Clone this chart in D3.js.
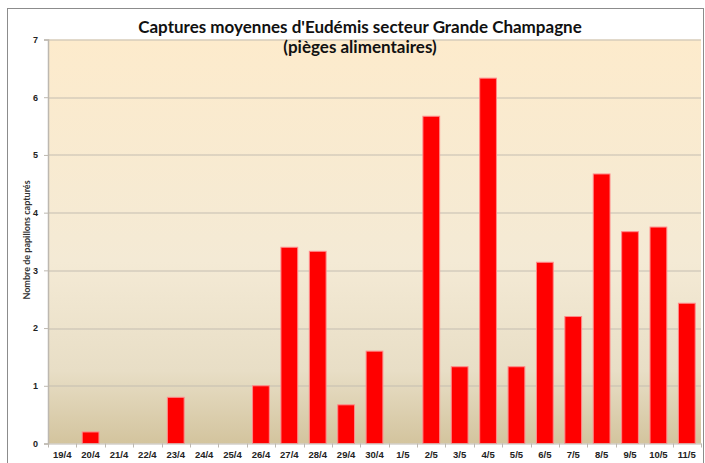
<!DOCTYPE html>
<html lang="fr">
<head>
<meta charset="UTF-8">
<title>Captures moyennes d'Eudémis</title>
<script src="https://d3js.org/d3.v7.min.js"></script>
<style>
  body { margin: 0; background: #fff; }
  svg { display: block; font-family: Lato, "Open Sans", sans-serif; }
  .grid line { stroke: #c4bdb1; stroke-width: 1px; }
  .axis path, .axis line { stroke: #bdb8b0; }
  .axis text { font-size: 9.5px; font-weight: bold; fill: #222; }
</style>
</head>
<body>
<svg id="chart" width="705" height="463"></svg>
<script>
// dates of the trap readings
const dates = ["19/4", "20/4", "21/4", "22/4", "23/4", "24/4", "25/4", "26/4", "27/4", "28/4", "29/4", "30/4",
               "1/5", "2/5", "3/5", "4/5", "5/5", "6/5", "7/5", "8/5", "9/5", "10/5", "11/5"];
// mean number of moths caught
const captures = [0, 0.2, 0, 0, 0.8, 0, 0, 1, 3.4, 3.33, 0.67, 1.6,
                  0, 5.67, 1.33, 6.33, 1.33, 3.14, 2.2, 4.67, 3.67, 3.75, 2.43];
const yTicks = [0, 1, 2, 3, 4, 5, 6, 7];

const svg = d3.select("#chart");
const margin = { top: 39.5, right: 4, bottom: 19.5, left: 48 };
const width = 705 - margin.left - margin.right;
const height = 463 - margin.top - margin.bottom;

// outer frame
svg.append("rect")
  .attr("x", 7.5).attr("y", 8.5)
  .attr("width", 696).attr("height", 462)
  .attr("fill", "none").attr("stroke", "#8c8c8c");

// background gradient of plot area
const defs = svg.append("defs");
const grad = defs.append("linearGradient")
  .attr("id", "bg").attr("x1", 0).attr("y1", 0).attr("x2", 0).attr("y2", 1);
grad.append("stop").attr("offset", "0%").attr("stop-color", "#fdebcc");
grad.append("stop").attr("offset", "55%").attr("stop-color", "#f4ead5");
grad.append("stop").attr("offset", "82%").attr("stop-color", "#e8dec6");
grad.append("stop").attr("offset", "100%").attr("stop-color", "#d3c49e");

const g = svg.append("g").attr("transform", `translate(${margin.left},${margin.top})`);

const x = d3.scaleBand().domain(dates).range([0, width]).paddingInner(0.41).paddingOuter(0.205);
const xTick = d3.scaleBand().domain(dates).range([0, width]);
const y = d3.scaleLinear().domain([0, 7]).range([height, 0]);

g.append("rect")
  .attr("width", width).attr("height", height)
  .attr("fill", "url(#bg)");

// horizontal gridlines
g.append("g").attr("class", "grid")
  .selectAll("line")
  .data(yTicks.filter(d => d > 0))
  .join("line")
  .attr("x1", 0).attr("x2", width)
  .attr("y1", d => Math.round(y(d)) + 0.5).attr("y2", d => Math.round(y(d)) + 0.5);

// bars
g.append("g")
  .selectAll("rect")
  .data(captures)
  .join("rect")
  .attr("x", (d, i) => x(dates[i]))
  .attr("y", d => y(d))
  .attr("width", x.bandwidth())
  .attr("height", d => height - y(d))
  .attr("fill", "#ff0000")
  .attr("stroke", d => d > 0 ? "#ff8a8a" : "none")
  .attr("stroke-width", 1);

// y axis
const yAxis = g.append("g").attr("class", "axis")
  .call(d3.axisLeft(y).tickValues(yTicks).tickFormat(d3.format("d")).tickSize(4).tickPadding(6));
yAxis.select(".domain").attr("stroke-width", 1.5);
yAxis.selectAll("text").style("font-size", "9px");

// x axis with ticks at category boundaries
const xAxis = g.append("g").attr("class", "axis")
  .attr("transform", `translate(0,${height})`)
  .call(d3.axisBottom(x).tickSize(0).tickPadding(8).tickSizeOuter(0));
xAxis.selectAll(".bound")
  .data(dates.concat(["end"]))
  .join("line")
  .attr("class", "bound")
  .attr("x1", (d, i) => Math.round(i * xTick.bandwidth()) + 0.5)
  .attr("x2", (d, i) => Math.round(i * xTick.bandwidth()) + 0.5)
  .attr("y1", 0).attr("y2", 4);

// y axis title
svg.append("text")
  .attr("transform", "translate(30,240) rotate(-90)")
  .attr("text-anchor", "middle")
  .style("font-size", "9px")
  .style("font-weight", "bold")
  .attr("fill", "#333")
  .text("Nombre de papillons capturés");

// title
const title = svg.append("text")
  .attr("x", 360).attr("text-anchor", "middle")
  .style("font-size", "17px").style("font-weight", "bold").attr("fill", "#111");
title.append("tspan").attr("x", 360).attr("y", 33).text("Captures moyennes d'Eudémis secteur Grande Champagne");
title.append("tspan").attr("x", 360).attr("y", 53).text("(pièges alimentaires)");
</script>
</body>
</html>
